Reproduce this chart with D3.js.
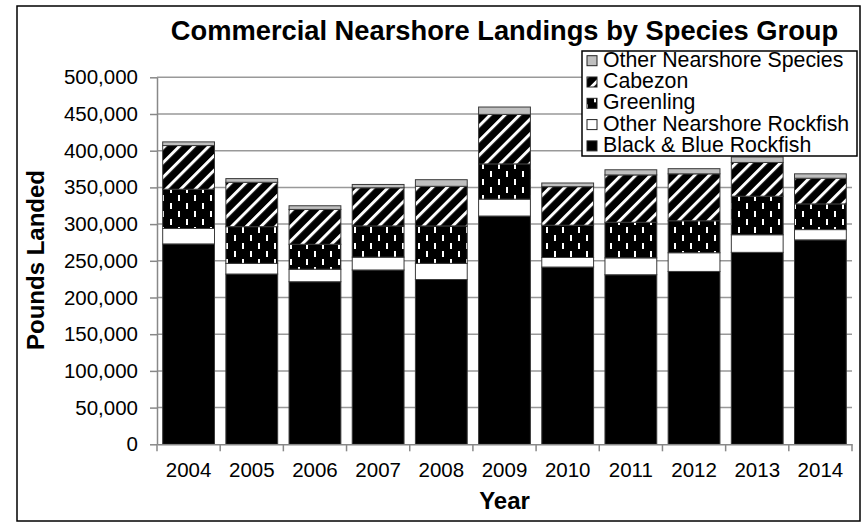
<!DOCTYPE html>
<html>
<head>
<meta charset="utf-8">
<script src="https://cdn.jsdelivr.net/npm/d3@7"></script>
<style>
  html, body { margin: 0; padding: 0; background: #fff; }
  svg { display: block; font-family: "Liberation Sans", Arial, sans-serif; }
</style>
</head>
<body>
<svg id="chart" width="865" height="524"></svg>
<script>
// Commercial nearshore landings (pounds) by species group, 2004-2014
const years = [2004, 2005, 2006, 2007, 2008, 2009, 2010, 2011, 2012, 2013, 2014];
const blackBlueRockfish    = [273000, 232000, 221500, 237500, 224500, 311000, 241500, 231000, 235500, 261500, 278500];
const otherNearshoreRockfish = [21000, 14500, 17000, 17500, 22000, 23000, 13000, 23000, 25500, 24000, 14000];
const greenling            = [53500, 50000, 34000, 42500, 51000, 48000, 44000, 48500, 43500, 52500, 35000];
const cabezon              = [59500, 60500, 47500, 52000, 54000, 67500, 52500, 64500, 64000, 46000, 35000];
const otherNearshoreSpecies = [5000, 5000, 5000, 4500, 9000, 10000, 5000, 7000, 7000, 7500, 6000];
const yTicks = [0, 50000, 100000, 150000, 200000, 250000, 300000, 350000, 400000, 450000, 500000];

const seriesKeys = ["black", "otherRock", "greenling", "cabezon", "otherSpecies"];
const seriesNames = {
  black: "Black & Blue Rockfish",
  otherRock: "Other Nearshore Rockfish",
  greenling: "Greenling",
  cabezon: "Cabezon",
  otherSpecies: "Other Nearshore Species"
};
const seriesFill = {
  black: "#000",
  otherRock: "#fff",
  greenling: "url(#dashPattern)",
  cabezon: "url(#stripePattern)",
  otherSpecies: "#bfbfbf"
};

const rows = years.map((yr, i) => ({
  year: yr,
  black: blackBlueRockfish[i],
  otherRock: otherNearshoreRockfish[i],
  greenling: greenling[i],
  cabezon: cabezon[i],
  otherSpecies: otherNearshoreSpecies[i]
}));

const svg = d3.select("#chart");
const plot = { left: 157, right: 852, top: 77.3, bottom: 444.3 };

// fill patterns
const defs = svg.append("defs");
const stripe = defs.append("pattern")
  .attr("id", "stripePattern")
  .attr("patternUnits", "userSpaceOnUse")
  .attr("width", 10.4).attr("height", 10.4)
  .attr("patternTransform", "rotate(45)");
stripe.append("rect").attr("width", 10.4).attr("height", 10.4).attr("fill", "#000");
stripe.append("rect").attr("x", 0).attr("width", 3).attr("height", 10.4).attr("fill", "#fff");

const dash = defs.append("pattern")
  .attr("id", "dashPattern")
  .attr("patternUnits", "userSpaceOnUse")
  .attr("x", 2).attr("y", 3)
  .attr("width", 16).attr("height", 16);
dash.append("rect").attr("width", 16).attr("height", 16).attr("fill", "#000");
dash.append("rect").attr("x", 0).attr("y", 0).attr("width", 2).attr("height", 6).attr("fill", "#fff");
dash.append("rect").attr("x", 8).attr("y", 8).attr("width", 2).attr("height", 6).attr("fill", "#fff");

// outer frame
svg.append("rect")
  .attr("x", 17).attr("y", 6).attr("width", 843).attr("height", 515)
  .attr("fill", "#fff").attr("stroke", "#000").attr("stroke-width", 1.5);

const x = d3.scaleBand()
  .domain(years)
  .range([plot.left, plot.right])
  .paddingInner(0.18)
  .paddingOuter(0.09);

const y = d3.scaleLinear()
  .domain([0, 500000])
  .range([plot.bottom, plot.top]);

// gridlines
svg.append("g")
  .selectAll("line")
  .data(yTicks.filter(d => d > 0))
  .join("line")
  .attr("x1", plot.left).attr("x2", plot.right)
  .attr("y1", d => y(d)).attr("y2", d => y(d))
  .attr("stroke", "#999").attr("stroke-width", 1.5);

// stacked bars
const stacked = d3.stack().keys(seriesKeys)(rows);
svg.append("g")
  .selectAll("g")
  .data(stacked)
  .join("g")
  .attr("fill", d => seriesFill[d.key])
  .selectAll("rect")
  .data(d => d)
  .join("rect")
  .attr("x", d => x(d.data.year))
  .attr("width", x.bandwidth())
  .attr("y", d => y(d[1]))
  .attr("height", d => y(d[0]) - y(d[1]))
  .attr("stroke", "#3a3a3a")
  .attr("stroke-width", 1);

// y axis
const yAxis = svg.append("g")
  .attr("transform", `translate(${plot.left},0)`)
  .call(d3.axisLeft(y).tickValues(yTicks).tickFormat(d3.format(",")).tickSize(7).tickSizeOuter(0).tickPadding(12));
yAxis.select(".domain").attr("stroke", "#888").attr("stroke-width", 1.5);
yAxis.selectAll(".tick line").attr("stroke", "#888").attr("stroke-width", 1.5);
yAxis.selectAll("text")
  .attr("font-size", "20.5px")
  .attr("font-family", "Liberation Sans, Arial, sans-serif")
  .attr("fill", "#000");

// x axis
const xAxis = svg.append("g")
  .attr("transform", `translate(0,${plot.bottom})`)
  .call(d3.axisBottom(x).tickSize(0).tickSizeOuter(0).tickPadding(18));
xAxis.select(".domain").attr("stroke", "#888").attr("stroke-width", 1.5);
xAxis.selectAll("text")
  .attr("font-size", "20.5px")
  .attr("font-family", "Liberation Sans, Arial, sans-serif")
  .attr("fill", "#000");
// category boundary ticks
const boundaries = d3.range(years.length + 1).map(i => plot.left + i * x.step());
svg.append("g")
  .selectAll("line")
  .data(boundaries)
  .join("line")
  .attr("x1", d => d).attr("x2", d => d)
  .attr("y1", plot.bottom).attr("y2", plot.bottom + 7)
  .attr("stroke", "#888").attr("stroke-width", 1.5);

// titles
svg.append("text")
  .attr("x", (plot.left + plot.right) / 2).attr("y", 40)
  .attr("text-anchor", "middle")
  .attr("font-size", "27.3px").attr("font-weight", "bold")
  .text("Commercial Nearshore Landings by Species Group");

svg.append("text")
  .attr("x", (plot.left + plot.right) / 2).attr("y", 509)
  .attr("text-anchor", "middle")
  .attr("font-size", "24px").attr("font-weight", "bold")
  .text("Year");

svg.append("text")
  .attr("transform", "translate(44,260) rotate(-90)")
  .attr("text-anchor", "middle")
  .attr("font-size", "24px").attr("font-weight", "bold")
  .text("Pounds Landed");

// legend
const legendKeys = ["otherSpecies", "cabezon", "greenling", "otherRock", "black"];
const legend = svg.append("g");
legend.append("rect")
  .attr("x", 582).attr("y", 51).attr("width", 275).attr("height", 105)
  .attr("fill", "#fff").attr("stroke", "#000").attr("stroke-width", 1.5);
const item = legend.selectAll("g.item")
  .data(legendKeys)
  .join("g")
  .attr("class", "item")
  .attr("transform", (d, i) => `translate(0,${66.7 + i * 21.3})`);
item.append("rect")
  .attr("x", 587).attr("y", -11).attr("width", 10).attr("height", 10)
  .attr("fill", d => seriesFill[d])
  .attr("stroke", "#222").attr("stroke-width", 1);
item.append("text")
  .attr("x", 603).attr("y", 0)
  .attr("font-size", "21.3px")
  .text(d => seriesNames[d]);
</script>
</body>
</html>
